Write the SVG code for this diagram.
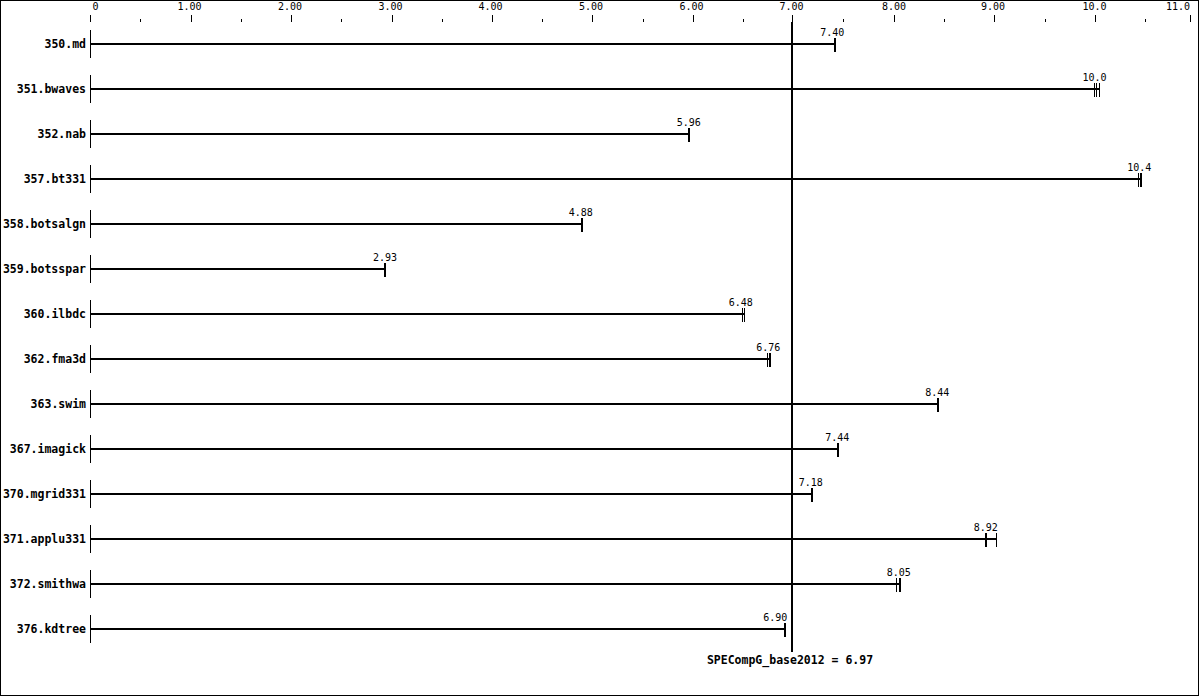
<svg xmlns="http://www.w3.org/2000/svg" width="1199" height="696" viewBox="0 0 1199 696">
<style>
.ax{font-family:"DejaVu Sans Mono","Liberation Mono",monospace;font-size:10px;fill:#000;text-anchor:middle}
.val{font-family:"DejaVu Sans Mono","Liberation Mono",monospace;font-size:10px;fill:#000;text-anchor:middle}
.lbl{font-family:"DejaVu Sans Mono","Liberation Mono",monospace;font-size:11.5px;font-weight:bold;fill:#000;text-anchor:end}
.tk{stroke:#000;stroke-width:1}
.bar{stroke:#000;stroke-width:2}
.r1{stroke:#000;stroke-width:1}
.r2{stroke:#000;stroke-width:2}
</style>
<rect x="0" y="0" width="1199" height="696" fill="#fff"/>
<rect x="0.5" y="0.5" width="1198" height="695" fill="none" stroke="#000" stroke-width="1"/>
<g id="axis">
<text class="ax" x="95.5" y="10">0</text>
<text class="ax" x="189.5" y="10">1.00</text>
<text class="ax" x="290" y="10">2.00</text>
<text class="ax" x="390.5" y="10">3.00</text>
<text class="ax" x="490.5" y="10">4.00</text>
<text class="ax" x="591" y="10">5.00</text>
<text class="ax" x="691.5" y="10">6.00</text>
<text class="ax" x="791.5" y="10">7.00</text>
<text class="ax" x="894" y="10">8.00</text>
<text class="ax" x="993" y="10">9.00</text>
<text class="ax" x="1094.5" y="10">10.0</text>
<text class="ax" x="1178" y="10">11.0</text>
<path class="tk" d="M90.5 15V22M191.5 15V22M291.5 15V22M392.5 15V22M492.5 15V22M592.5 15V22M693.5 15V22M792.5 15V22M894.5 15V22M994.5 15V22M1095.5 15V22M1190.5 15V22"/>
<path class="tk" d="M140.5 19V22M241.5 19V22M341.5 19V22M442.5 19V22M542.5 19V22M643.5 19V22M743.5 19V22M843.5 19V22M944.5 19V22M1045.5 19V22M1145.5 19V22"/>
</g>
<g id="row-350">
<text class="lbl" x="86" y="47.5">350.md</text>
<path class="tk" d="M90.5 30V58"/>
<path class="bar" d="M91 44H836"/>
<path class="r2" d="M835 38V52"/>
<text class="val" x="832.3" y="36">7.40</text>
</g>
<g id="row-351">
<text class="lbl" x="86" y="92.5">351.bwaves</text>
<path class="tk" d="M90.5 75V103"/>
<path class="bar" d="M91 89H1100"/>
<path class="r1" d="M1094.5 83V97M1096.5 83V97M1099.5 83V97"/>
<text class="val" x="1094.5" y="81">10.0</text>
</g>
<g id="row-352">
<text class="lbl" x="86" y="137.5">352.nab</text>
<path class="tk" d="M90.5 120V148"/>
<path class="bar" d="M91 134H690"/>
<path class="r2" d="M689 128V142"/>
<text class="val" x="688.7" y="126">5.96</text>
</g>
<g id="row-357">
<text class="lbl" x="86" y="182.5">357.bt331</text>
<path class="tk" d="M90.5 165V193"/>
<path class="bar" d="M91 179H1142"/>
<path class="r1" d="M1138.5 173V187"/>
<path class="r2" d="M1141 173V187"/>
<text class="val" x="1139.2" y="171">10.4</text>
</g>
<g id="row-358">
<text class="lbl" x="86" y="227.5">358.botsalgn</text>
<path class="tk" d="M90.5 210V238"/>
<path class="bar" d="M91 224H582"/>
<path class="r2" d="M582 218V232"/>
<text class="val" x="580.8" y="216">4.88</text>
</g>
<g id="row-359">
<text class="lbl" x="86" y="272.5">359.botsspar</text>
<path class="tk" d="M90.5 255V283"/>
<path class="bar" d="M91 269H385"/>
<path class="r2" d="M385 263V277"/>
<text class="val" x="385" y="261">2.93</text>
</g>
<g id="row-360">
<text class="lbl" x="86" y="317.5">360.ilbdc</text>
<path class="tk" d="M90.5 300V328"/>
<path class="bar" d="M91 314H745"/>
<path class="r1" d="M742.5 308V322M744.5 308V322"/>
<text class="val" x="740.7" y="306">6.48</text>
</g>
<g id="row-362">
<text class="lbl" x="86" y="362.5">362.fma3d</text>
<path class="tk" d="M90.5 345V373"/>
<path class="bar" d="M91 359H771"/>
<path class="r1" d="M767.5 353V367"/>
<path class="r2" d="M770 353V367"/>
<text class="val" x="768.3" y="351">6.76</text>
</g>
<g id="row-363">
<text class="lbl" x="86" y="407.5">363.swim</text>
<path class="tk" d="M90.5 390V418"/>
<path class="bar" d="M91 404H939"/>
<path class="r2" d="M938 398V412"/>
<text class="val" x="937.3" y="396">8.44</text>
</g>
<g id="row-367">
<text class="lbl" x="86" y="452.5">367.imagick</text>
<path class="tk" d="M90.5 435V463"/>
<path class="bar" d="M91 449H839"/>
<path class="r2" d="M838 443V457"/>
<text class="val" x="837.3" y="441">7.44</text>
</g>
<g id="row-370">
<text class="lbl" x="86" y="497.5">370.mgrid331</text>
<path class="tk" d="M90.5 480V508"/>
<path class="bar" d="M91 494H813"/>
<path class="r2" d="M812 488V502"/>
<text class="val" x="810.7" y="486">7.18</text>
</g>
<g id="row-371">
<text class="lbl" x="86" y="542.5">371.applu331</text>
<path class="tk" d="M90.5 525V553"/>
<path class="bar" d="M91 539H997"/>
<path class="r2" d="M986 533V547"/>
<path class="r1" d="M996.5 533V547"/>
<text class="val" x="985.7" y="531">8.92</text>
</g>
<g id="row-372">
<text class="lbl" x="86" y="587.5">372.smithwa</text>
<path class="tk" d="M90.5 570V598"/>
<path class="bar" d="M91 584H901"/>
<path class="r1" d="M896.5 578V592"/>
<path class="r2" d="M900 578V592"/>
<text class="val" x="898.7" y="576">8.05</text>
</g>
<g id="row-376">
<text class="lbl" x="86" y="632.5">376.kdtree</text>
<path class="tk" d="M90.5 615V643"/>
<path class="bar" d="M91 629H786"/>
<path class="r2" d="M785 623V637"/>
<text class="val" x="775.3" y="621">6.90</text>
</g>
<g id="connectors">
<path d="M792 22V652" stroke="#000" stroke-width="2"/>
</g>
<g id="summary">
<text x="790" y="664" style="font-family:'DejaVu Sans Mono','Liberation Mono',monospace;font-size:11.5px;font-weight:bold;text-anchor:middle">SPECompG_base2012 = 6.97</text>
</g>
</svg>
